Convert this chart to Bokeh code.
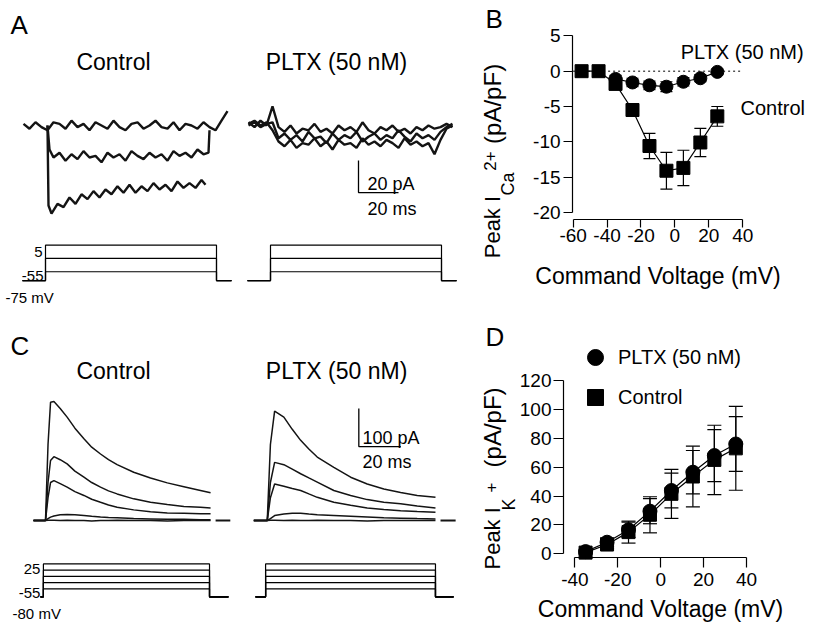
import math
from bokeh.plotting import figure
from bokeh.models import (Range1d, Label, ColumnDataSource, Whisker, TeeHead,
                          FixedTicker, Legend, LegendItem)
from bokeh.layouts import row, column
from bokeh.embed import file_html
from bokeh.resources import INLINE

FONT = "Liberation Sans"

# ---------------- Panel A: Ca2+ current traces (pA vs ms) ----------------
A_T = list(range(-12, 91, 3))
A_CTL_TOP = [1, -2, 2, -1, -3, 2, 1, -2, 3, -1, 1, -3, 2, 0, -2, 3, -1, -3, 1, 2,
             -2, 0, 3, -1, -2, 2, -3, 1, 0, -2, 2, -1, -3, 3, 9]
A_CTL_MID_T = [0, 1] + list(range(3, 79, 3)) + [80.5, 81]
A_CTL_MID = [0, -15, -20, -17, -22, -18, -21, -16, -20, -19, -23, -17, -20, -18, -22,
             -16, -19, -21, -17, -20, -18, -22, -16, -19, -17, -20, -15, -18, -17, -3]
A_CTL_BOT_T = [0, 0.5] + list(range(2, 78, 3)) + [79]
A_CTL_BOT = [0, -50, -55, -49, -51, -45, -49, -43, -46, -41, -45, -40, -43, -38, -42,
             -37, -42, -38, -41, -36, -40, -37, -41, -35, -39, -36, -39, -34, -37]
A_PL1 = [2, -1, 3, 0, 12, -1, -4, 0, -5, -2, -3, 1, -4, -2, -5, 0, -3, -1, -4, 2,
         -3, -5, -1, -3, 0, -4, -2, -5, -1, -3, 0, -2, -1, 1, -1]
A_PL2 = [0, 2, -1, 1, 2, -8, -5, -9, -6, -10, -4, -8, -7, -11, -5, -9, -6, -8, -4, -10,
         -7, -5, -9, -6, -8, -3, -7, -10, -5, -8, -6, -9, -4, -1, 1]
A_PL3 = [1, 3, 0, 2, -3, -10, -13, -9, -14, -11, -12, -8, -13, -10, -15, -9, -12, -11, -14, -8,
         -12, -10, -13, -9, -11, -14, -8, -12, -10, -13, -11, -18, -9, -2, 0]
A_PROT_LEVELS = [5, -25, -55]          # mV
A_HOLD = -75                           # mV
A_PROT_T = [-12.5, -1, 84.5, 92]       # ms: start, step on, step off, end
A_SCALE = [20, 20]                     # ms, pA

# ---------------- Panel B: Ca2+ I-V ----------------
B_V_CTL = [-55, -45, -35, -25, -15, -5, 5, 15, 25]
B_I_CTL = [0, 0, -1.8, -5.5, -10.6, -14.1, -13.7, -10.1, -6.4]
B_E_CTL = [0.2, 0.2, 0.6, 0.9, 1.8, 2.6, 2.5, 2.0, 1.4]
B_V_PL = [-35, -25, -15, -5, 5, 15, 25]
B_I_PL = [-1.1, -1.6, -2.0, -2.2, -1.5, -1.0, -0.1]
B_E_PL = [0.5, 0.6, 0.6, 0.7, 0.6, 0.5, 0.4]
B_XTICKS = [-60, -40, -20, 0, 20, 40]
B_YTICKS = [-20, -15, -10, -5, 0, 5]

# ---------------- Panel C: K+ current traces (pA vs ms) ----------------
C_T_CTL = [-5.7, -1.4, 0, 1.2, 2.4, 4, 7, 10.3, 14, 18.3, 22, 26.2, 30, 34.1, 42, 50, 58, 65.9, 73.8, 78.6]
C_CTL = [
    [0, 0, 0, 200, 311, 313, 295, 272, 243, 215, 193, 175, 160, 147, 127, 112, 99, 89, 79, 73],
    [0, 0, 0, 100, 158, 168, 160, 149, 130, 114, 100, 88, 78, 70, 57, 48, 42, 37, 35, 33],
    [0, 0, 0, 60, 100, 105, 97, 88, 76, 66, 56, 48, 41, 35, 28, 23, 20, 19, 18, 18],
    [0, 0, 0, 5, 9, 12, 15, 16, 15, 13, 11, 9, 8, 7, 5, 4, 3, 3, 2, 2],
    [0, 0, 0, 1, 1, 1, 0, 1, 0, 0, -1, 0, 0, 1, 0, 0, -1, 0, 0, 0],
]
C_TAIL_CTL = [81, 88]
C_T_PL = [-6.4, -1.6, 0, 1.5, 3.5, 7.9, 11.9, 15.9, 19.8, 23.8, 31.7, 39.7, 47.6, 55.5, 63.5, 71.4, 80.1]
C_PL = [
    [0, 0, 0, 200, 288, 272, 240, 211, 188, 167, 140, 114, 96, 83, 74, 66, 61],
    [0, 0, 0, 100, 153, 147, 135, 123, 112, 101, 79, 66, 55, 48, 44, 38, 33],
    [0, 0, 0, 60, 96, 90, 84, 79, 70, 61, 48, 40, 33, 29, 26, 24, 22],
    [0, 0, 0, 5, 13, 17, 19, 19, 17, 15, 13, 11, 9, 7, 6, 5, 4],
    [0, 0, 0, 1, 1, 0, 1, 0, 0, 1, 0, 0, -1, 0, 0, 0, 0],
]
C_TAIL_PL = [82.5, 89.7]
C_PROT_LEVELS = [25, 5, -15, -35, -55]
C_HOLD = -80
C_PROT_T_CTL = [-2.4, -1, 78.1, 87.1]
C_PROT_T_PL = [-5.6, -0.8, 80.1, 88.7]
C_SCALE = [20, 100]                    # ms, pA

# ---------------- Panel D: K+ I-V ----------------
D_V = [-35, -25, -15, -5, 5, 15, 25, 35]
D_I_PL = [1.5, 8, 16.6, 29.5, 43.8, 56.5, 68, 76]
D_E_PL = [1, 3, 5.3, 8.7, 12, 15, 18, 19]
D_I_CTL = [0.8, 6.4, 15, 27, 41.5, 53.5, 65, 73]
D_E_CTL = [1, 3, 7.6, 12.5, 17, 21, 24, 29]
D_XTICKS = [-40, -20, 0, 20, 40]
D_YTICKS = [0, 20, 40, 60, 80, 100, 120]

ROT = math.pi / 2
TC = "#141414"


def label(p, x, y, text, size, align="left", baseline="middle", angle=0.0, yr="default"):
    p.add_layout(Label(x=x, y=y, text=text, text_font=FONT, text_font_size=f"{size}px",
                       text_align=align, text_baseline=baseline, angle=angle,
                       text_color="black", y_range_name=yr))


def base_fig(w, h, xr, yr, axes):
    kw = {} if axes else dict(x_axis_type=None, y_axis_type=None)
    p = figure(width=w, height=h, x_range=Range1d(*xr), y_range=Range1d(*yr),
               output_backend="svg", toolbar_location=None, min_border=0, **kw)
    p.outline_line_color = None
    p.background_fill_color = "white"
    p.border_fill_color = "white"
    return p


def protocol(p, times, levels, hold, shift):
    t0, ton, toff, t1 = [t + shift for t in times]
    for lv in levels:
        p.line([t0, ton, ton, toff, toff, t1], [hold, hold, lv, lv, hold, hold],
               y_range_name="mv", line_color="black", line_width=1.2)


def scale_bar(p, t, y, scale):
    dt, dy = scale
    p.line([t, t, t + dt], [y + dy, y, y], line_color="black", line_width=1.3)


# ================= Panel A =================
A_SHIFT = 112.5
AW = 2.4
pA = base_fig(480, 318, (-23.5, 216.5), (-120.6, 78.1), False)
pA.extra_y_ranges = {"mv": Range1d(-160.8, 558.6)}
pA.line(A_T, A_CTL_TOP, line_color=TC, line_width=AW, line_join="bevel")
pA.line(A_CTL_MID_T, A_CTL_MID, line_color=TC, line_width=AW, line_join="bevel")
pA.line(A_CTL_BOT_T, A_CTL_BOT, line_color=TC, line_width=AW, line_join="bevel")
for tr in (A_PL1, A_PL2, A_PL3):
    pA.line([t + A_SHIFT for t in A_T], tr, line_color=TC, line_width=AW, line_join="bevel")
protocol(pA, A_PROT_T, A_PROT_LEVELS, A_HOLD, 0)
protocol(pA, A_PROT_T, A_PROT_LEVELS, A_HOLD, A_SHIFT)
scale_bar(pA, 155.5, -41.9, A_SCALE)
label(pA, -18.5, 63, "A", 26)
label(pA, 33, 39.4, "Control", 23, align="center")
label(pA, 144.5, 39.4, "PLTX (50 nM)", 23, align="center")
label(pA, 160, -36.3, f"{A_SCALE[1]} pA", 18)
label(pA, 160, -51.9, f"{A_SCALE[0]} ms", 18)
label(pA, -2.5, -78.8, str(A_PROT_LEVELS[0]), 15, align="right")
label(pA, -2.0, -93.8, str(A_PROT_LEVELS[-1]), 15, align="right")
label(pA, -21.0, -107.5, f"{A_HOLD} mV", 15)

# ================= Panel C =================
C_SHIFT = 105.6
pC = base_fig(480, 308, (-21.43, 207.14), (-278.9, 531.6), False)
pC.extra_y_ranges = {"mv": Range1d(-175.0, 809.9)}
for tr in C_CTL:
    pC.line(C_T_CTL, tr, line_color=TC, line_width=1.5)
pC.line(C_TAIL_CTL, [0, 0], line_color=TC, line_width=2)
for tr in C_PL:
    pC.line([t + C_SHIFT for t in C_T_PL], tr, line_color=TC, line_width=1.5)
pC.line([t + C_SHIFT for t in C_TAIL_PL], [0, 0], line_color=TC, line_width=2)
protocol(pC, C_PROT_T_CTL, C_PROT_LEVELS, C_HOLD, 0)
protocol(pC, C_PROT_T_PL, C_PROT_LEVELS, C_HOLD, C_SHIFT)
scale_bar(pC, 149.2, 194.7, C_SCALE)
label(pC, -16.7, 460, "C", 26)
label(pC, 32.4, 394.7, "Control", 23, align="center")
label(pC, 138.6, 394.7, "PLTX (50 nM)", 23, align="center")
label(pC, 150.9, 218.4, f"{C_SCALE[1]} pA", 18)
label(pC, 150.9, 153.4, f"{C_SCALE[0]} ms", 18)
label(pC, -2.4, -126.3, str(C_PROT_LEVELS[0]), 15, align="right")
label(pC, -2.4, -189.5, str(C_PROT_LEVELS[-1]), 15, align="right")
label(pC, -15.7, -245.5, f"{C_HOLD} mV", 15)


def style_axes(p, xt, yt, x_loc, y_loc, x_tick, y_tick, x_std, title_std, y_std):
    for ax in (p.xaxis[0], p.yaxis[0]):
        ax.axis_line_color = "black"
        ax.axis_line_width = 1.2
        ax.major_tick_line_color = "black"
        ax.major_tick_line_width = 1.2
        ax.minor_tick_line_color = None
        ax.major_tick_in = 0
        ax.major_label_text_font = FONT
        ax.major_label_text_font_size = "19px"
        ax.major_label_text_color = "black"
    p.xaxis.major_tick_out = x_tick
    p.yaxis.major_tick_out = y_tick
    p.xaxis.ticker = FixedTicker(ticks=xt)
    p.yaxis.ticker = FixedTicker(ticks=yt)
    p.xaxis.major_label_overrides = {t: str(t) for t in xt}
    p.yaxis.major_label_overrides = {t: str(t) for t in yt}
    p.xaxis.bounds = (xt[0], xt[-1])
    p.yaxis.bounds = (yt[0], yt[-1])
    p.xaxis.fixed_location = x_loc
    p.yaxis.fixed_location = y_loc
    p.xaxis.major_label_standoff = x_std
    p.yaxis.major_label_standoff = y_std
    p.xaxis.axis_label = "Command Voltage (mV)"
    p.xaxis.axis_label_text_font = FONT
    p.xaxis.axis_label_text_font_size = "23px"
    p.xaxis.axis_label_text_font_style = "normal"
    p.xaxis.axis_label_text_color = "black"
    p.xaxis.axis_label_standoff = title_std
    p.grid.visible = False


def errbars(p, xs, ys, es, head):
    src = ColumnDataSource(dict(x=xs, lo=[y - e for y, e in zip(ys, es)],
                                hi=[y + e for y, e in zip(ys, es)]))
    p.add_layout(Whisker(source=src, base="x", lower="lo", upper="hi",
                         line_color="black", line_width=1.2,
                         lower_head=TeeHead(size=head, line_color="black", line_width=1.2),
                         upper_head=TeeHead(size=head, line_color="black", line_width=1.2)))


# ================= Panel B =================
pB = base_fig(333, 318, (-114.6, 81.7), (-35.03, 10.01), True)
style_axes(pB, B_XTICKS, B_YTICKS, -21.0, -60.35, 8, 9, 2, 17, 3)
pB.line([B_XTICKS[0], B_XTICKS[-1]], [0, 0], line_color="black", line_width=1, line_dash="2 3")
pB.line(B_V_CTL, B_I_CTL, line_color="black", line_width=1.2)
pB.line(B_V_PL, B_I_PL, line_color="black", line_width=1.2)
errbars(pB, B_V_CTL, B_I_CTL, B_E_CTL, 12)
errbars(pB, B_V_PL, B_I_PL, B_E_PL, 12)
pB.scatter(B_V_CTL, B_I_CTL, marker="square", size=13, color="black")
pB.scatter(B_V_PL, B_I_PL, marker="circle", size=13, color="black")
label(pB, 3.4, 2.65, "PLTX (50 nM)", 20)
label(pB, 38.7, -5.28, "Control", 20)
label(pB, -111.7, 7.32, "B", 26)
label(pB, -107.7, -26.5, "Peak  I", 22, angle=ROT)
label(pB, -98.1, -17.6, "Ca", 18, angle=ROT)
label(pB, -108.9, -14.1, "2+", 17, angle=ROT)
label(pB, -107.7, -10.3, "(pA/pF)", 24, angle=ROT)

# ================= Panel D =================
pD = base_fig(333, 308, (-83.97, 71.2), (-50.35, 162.9), True)
style_axes(pD, D_XTICKS, D_YTICKS, -2.56, -45.3, 10, 10, 6, 6, 2)
pD.line(D_V, D_I_PL, line_color="black", line_width=1.2)
pD.line(D_V, D_I_CTL, line_color="black", line_width=1.2)
errbars(pD, D_V, D_I_PL, D_E_PL, 14)
errbars(pD, D_V, D_I_CTL, D_E_CTL, 14)
r_pl = pD.scatter(D_V, D_I_PL, marker="circle", size=14, color="black")
r_ct = pD.scatter(D_V, D_I_CTL, marker="square", size=13, color="black")
leg = Legend(items=[LegendItem(label="PLTX (50 nM)", renderers=[r_pl]),
                    LegendItem(label="Control", renderers=[r_ct])],
             location=(95, 209), orientation="vertical",
             glyph_width=40, glyph_height=40, spacing=0, padding=0, margin=0,
             label_standoff=3, label_text_font=FONT, label_text_font_size="20px",
             label_text_color="black", label_text_baseline="middle",
             border_line_color=None, background_fill_alpha=0)
pD.add_layout(leg)
label(pD, -81.6, 149.8, "D", 26)
label(pD, -78.4, -10.9, "Peak  I", 22, angle=ROT)
label(pD, -70.9, 30, "K", 18, angle=ROT)
label(pD, -79.2, 42.5, "+", 17, angle=ROT)
label(pD, -78.4, 59.8, "(pA/pF)", 24, angle=ROT)

layout = column(row(pA, pB), row(pC, pD))
open("out.html", "w").write(file_html(layout, INLINE))
